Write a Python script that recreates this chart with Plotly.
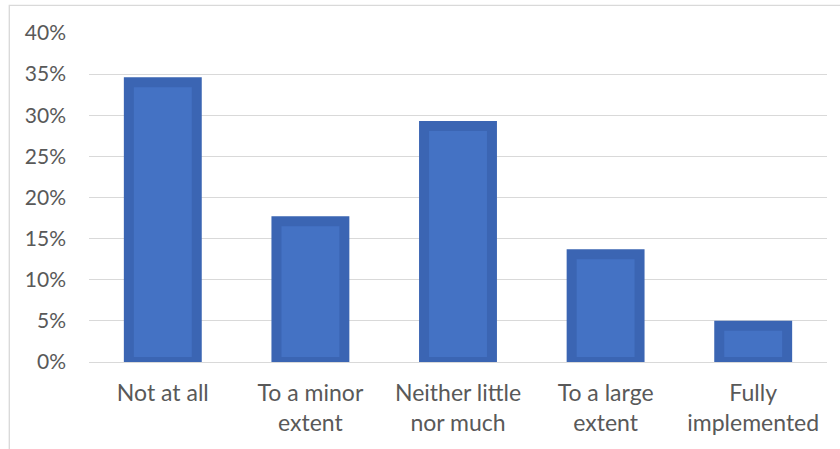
import plotly.graph_objects as go

categories = ["Not at all<br>", "To a minor<br>extent", "Neither little<br>nor much",
              "To a large<br>extent", "Fully<br>implemented"]
values = [34.0, 17.1, 28.7, 13.1, 4.4]
tick_vals = [0, 5, 10, 15, 20, 25, 30, 35, 40]
tick_text = [f"{v}%" for v in tick_vals]

fig = go.Figure()
fig.add_trace(go.Bar(
    x=categories, y=values, width=0.46,
    marker=dict(color="#4472C4", line=dict(color="#3B65B3", width=10)),
    cliponaxis=True,
))

font_family = "Lato"
fig.update_layout(
    width=840, height=449,
    margin=dict(l=89, r=13, t=33, b=87),
    paper_bgcolor="white", plot_bgcolor="white",
    showlegend=False,
    font=dict(family=font_family, size=21, color="#595959"),
    xaxis=dict(showline=False, showgrid=False, ticks="", ticklabelstandoff=15,
               tickfont=dict(size=23, color="#595959")),
    yaxis=dict(range=[0, 40], tickvals=tick_vals, ticktext=tick_text,
               showgrid=True, gridcolor="#D9D9D9", gridwidth=1.3,
               zeroline=True, zerolinecolor="#D9D9D9", zerolinewidth=1.3,
               showline=False, ticks="", ticklabelstandoff=22,
               tickfont=dict(size=21, color="#595959")),
    shapes=[dict(type="rect", xref="paper", yref="paper",
                 x0=-0.108, x1=1.2, y0=-0.6, y1=1.084,
                 line=dict(color="#D9D9D9", width=1.3), fillcolor="rgba(0,0,0,0)",
                 layer="below")],
)

fig.write_html("out.html")
